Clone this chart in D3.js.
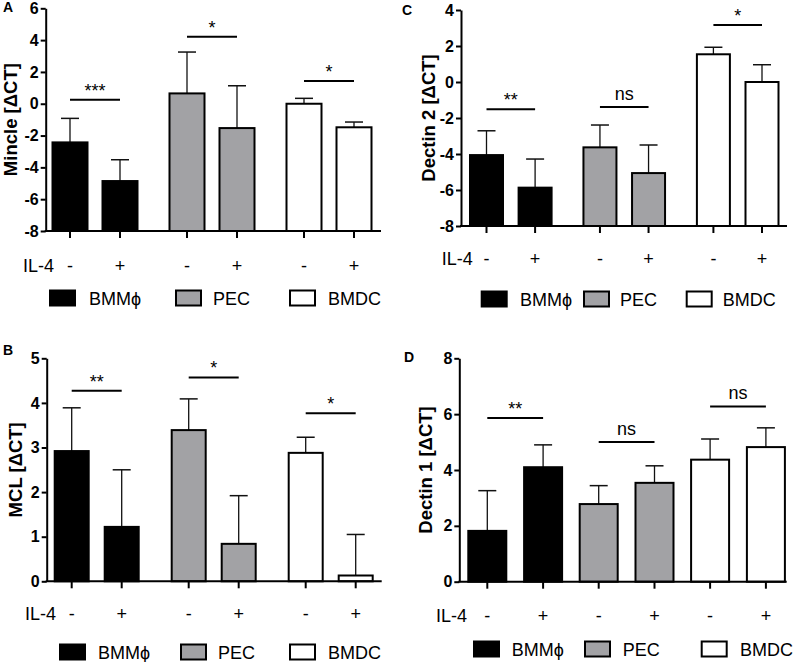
<!DOCTYPE html>
<html>
<head>
<meta charset="utf-8">
<script src="https://cdn.jsdelivr.net/npm/d3@7"></script>
<style>
  html, body { margin: 0; padding: 0; background: #fff; }
  svg { display: block; font-family: "Liberation Sans", Arial, sans-serif; }
</style>
</head>
<body>
<svg id="chart" width="797" height="662"></svg>
<script>
// ---------- data ----------
const cellTypes = ["BMMϕ", "PEC", "BMDC"];
const il4Levels = ["-", "+"];
const cellColors = ["#000000", "#a2a2a5", "#ffffff"];

// Panel A: Mincle
const minclMean = [-2.43, -4.86, 0.65, -1.53, 0.0, -1.48];
const minclSD   = [1.51, 1.34, 2.60, 2.66, 0.34, 0.33];
const minclSig  = ["***", "*", "*"];
const minclSigY = [0.25, 4.21, 1.43];
const minclTicks = [-8, -6, -4, -2, 0, 2, 4, 6];

// Panel B: MCL
const mclMean = [2.92, 1.22, 3.39, 0.84, 2.88, 0.13];
const mclSD   = [0.97, 1.28, 0.70, 1.08, 0.35, 0.92];
const mclSig  = ["**", "*", "*"];
const mclSigY = [4.27, 4.57, 3.77];
const mclTicks = [0, 1, 2, 3, 4, 5];

// Panel C: Dectin 2
const dectin2Mean = [-4.06, -5.87, -3.63, -5.06, 1.54, 0.0];
const dectin2SD   = [1.35, 1.59, 1.24, 1.56, 0.39, 0.96];
const dectin2Sig  = ["**", "ns", "*"];
const dectin2SigY = [-1.52, -1.39, 3.17];
const dectin2Ticks = [-8, -6, -4, -2, 0, 2, 4];

// Panel D: Dectin 1
const dectin1Mean = [1.82, 4.10, 2.78, 3.54, 4.37, 4.82];
const dectin1SD   = [1.44, 0.80, 0.66, 0.61, 0.74, 0.69];
const dectin1Sig  = ["**", "ns", "ns"];
const dectin1SigY = [5.86, 5.00, 6.27];
const dectin1Ticks = [0, 2, 4, 6, 8];

// ---------- layout ----------
const panels = [
  { letter: "A", title: "Mincle [ΔCT]", mean: minclMean, sd: minclSD, sig: minclSig, sigY: minclSigY, ticks: minclTicks,
    x0: 45.7, x1: 381, yTop: 8.3, yBot: 231, groupRange: [95, 329], inner: 25, barW: 35,
    letterPos: [3, 12], titleX: 11, il4Y: 265, il4X: 23,
    legendY: 298, legendX: [50, 176, 290], labelX: [89, 213, 328] },
  { letter: "B", title: "MCL [ΔCT]", mean: mclMean, sd: mclSD, sig: mclSig, sigY: mclSigY, ticks: mclTicks,
    x0: 46.7, x1: 381.7, yTop: 358.3, yBot: 581.3, groupRange: [96.7, 330.7], inner: 25, barW: 34,
    letterPos: [3, 355], titleX: 15.5, il4Y: 613.3, il4X: 25,
    legendY: 652, legendX: [60, 181, 290], labelX: [98, 218, 328] },
  { letter: "C", title: "Dectin 2 [ΔCT]", mean: dectin2Mean, sd: dectin2SD, sig: dectin2Sig, sigY: dectin2SigY, ticks: dectin2Ticks,
    x0: 461, x1: 787, yTop: 10, yBot: 226, groupRange: [510.8, 737.7], inner: 24.3, barW: 33,
    letterPos: [402, 15], titleX: 429, il4Y: 258.3, il4X: 441.7,
    legendY: 299, legendX: [481.7, 584, 686.7], labelX: [520, 620, 722.7] },
  { letter: "D", title: "Dectin 1 [ΔCT]", mean: dectin1Mean, sd: dectin1SD, sig: dectin1Sig, sigY: dectin1SigY, ticks: dectin1Ticks,
    x0: 459.3, x1: 786.7, yTop: 358.3, yBot: 581.7, groupRange: [515.2, 738], inner: 27.9, barW: 38,
    letterPos: [404, 362], titleX: 426, il4Y: 615.7, il4X: 436,
    legendY: 649, legendX: [474, 585, 701.7], labelX: [511.7, 622.7, 740] }
];

const svg = d3.select("#chart");

panels.forEach(p => {
  const g = svg.append("g");
  const dom = d3.extent(p.ticks);
  const y = d3.scaleLinear().domain(dom).range([p.yBot, p.yTop]);
  const outer = d3.scalePoint().domain(cellTypes).range(p.groupRange);
  const inner = d3.scalePoint().domain(il4Levels).range([-p.inner, p.inner]);

  const rows = [];
  cellTypes.forEach((c, gi) => il4Levels.forEach((l, li) => {
    const i = gi * 2 + li;
    rows.push({ cell: c, gi, il4: l, mean: p.mean[i], sd: p.sd[i], cx: outer(c) + inner(l) });
  }));

  // error bars (upper only)
  const capW = 18;
  g.selectAll(".whisker").data(rows).enter().append("line")
    .attr("x1", d => d.cx).attr("x2", d => d.cx)
    .attr("y1", d => y(d.mean)).attr("y2", d => y(d.mean + d.sd))
    .attr("stroke", "#111").attr("stroke-width", 1.3);
  g.selectAll(".cap").data(rows).enter().append("line")
    .attr("x1", d => d.cx - capW / 2).attr("x2", d => d.cx + capW / 2)
    .attr("y1", d => y(d.mean + d.sd)).attr("y2", d => y(d.mean + d.sd))
    .attr("stroke", "#111").attr("stroke-width", 1.5);

  // bars
  g.selectAll(".bar").data(rows).enter().append("rect")
    .attr("x", d => d.cx - p.barW / 2)
    .attr("width", p.barW)
    .attr("y", d => y(d.mean))
    .attr("height", d => y(dom[0]) - y(d.mean))
    .attr("fill", d => cellColors[d.gi])
    .attr("stroke", "#000").attr("stroke-width", 2);

  // y axis
  const yAxis = d3.axisLeft(y).tickValues(p.ticks).tickSize(5).tickSizeOuter(0).tickPadding(2).tickFormat(d3.format("d"));
  const ya = g.append("g").attr("transform", `translate(${p.x0},0)`).call(yAxis);
  ya.select(".domain").attr("stroke", "#000").attr("stroke-width", 2);
  ya.selectAll(".tick line").attr("stroke", "#000").attr("stroke-width", 2);
  ya.selectAll(".tick text").attr("font-size", 16).attr("font-weight", "bold").attr("fill", "#000")
    .attr("font-family", "'Liberation Sans', Arial, sans-serif")
    .text(d => d < 0 ? "-" + Math.abs(d) : d);

  // x axis line + ticks
  g.append("line").attr("x1", p.x0 - 1).attr("x2", p.x1).attr("y1", y(dom[0])).attr("y2", y(dom[0]))
    .attr("stroke", "#000").attr("stroke-width", 2);
  g.selectAll(".xtick").data(rows).enter().append("line")
    .attr("x1", d => d.cx).attr("x2", d => d.cx)
    .attr("y1", y(dom[0])).attr("y2", y(dom[0]) + 7)
    .attr("stroke", "#000").attr("stroke-width", 2);

  // significance lines
  cellTypes.forEach((c, gi) => {
    const xa = outer(c) + inner("-"), xb = outer(c) + inner("+");
    const sy = y(p.sigY[gi]);
    g.append("line").attr("x1", xa).attr("x2", xb).attr("y1", sy).attr("y2", sy)
      .attr("stroke", "#000").attr("stroke-width", 2);
    const isNs = p.sig[gi] === "ns";
    g.append("text").attr("x", (xa + xb) / 2).attr("y", isNs ? sy - 7.5 : sy - 3)
      .attr("text-anchor", "middle").attr("font-size", 18)
      .attr("fill", "#000").text(p.sig[gi]);
  });

  // y title
  const midY = (p.yTop + p.yBot) / 2;
  g.append("text").attr("transform", `translate(${p.titleX},${midY}) rotate(-90)`)
    .attr("text-anchor", "middle").attr("dy", "0.35em")
    .attr("font-size", 18.5).attr("font-weight", "bold").attr("fill", "#000").text(p.title);

  // panel letter
  g.append("text").attr("x", p.letterPos[0]).attr("y", p.letterPos[1])
    .attr("font-size", 14).attr("font-weight", "bold").attr("fill", "#000").text(p.letter);

  // IL-4 row
  g.append("text").attr("x", p.il4X).attr("y", p.il4Y + 6.5)
    .attr("font-size", 18).attr("fill", "#000").text("IL-4");
  g.selectAll(".il4").data(rows).enter().append("text")
    .attr("x", d => d.cx).attr("y", p.il4Y + 6.5)
    .attr("text-anchor", "middle").attr("font-size", 18).attr("fill", "#000")
    .text(d => d.il4);

  // legend
  cellTypes.forEach((c, gi) => {
    g.append("rect").attr("x", p.legendX[gi]).attr("y", p.legendY - 7.5)
      .attr("width", 25).attr("height", 15)
      .attr("fill", cellColors[gi]).attr("stroke", "#000").attr("stroke-width", 2);
    g.append("text").attr("x", p.labelX[gi]).attr("y", p.legendY + 6.5)
      .attr("font-size", 18).attr("fill", "#000").text(c);
  });
});
</script>
</body>
</html>
